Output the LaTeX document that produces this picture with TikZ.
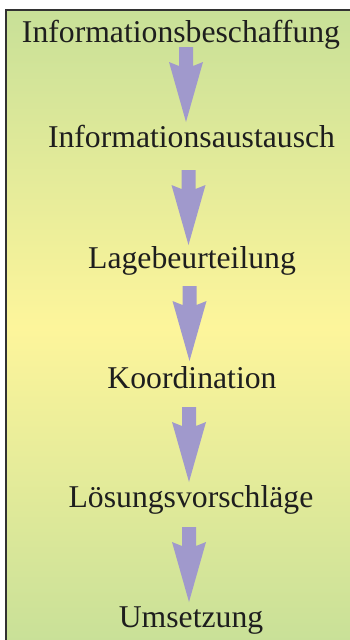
\documentclass[tikz,border=0pt]{standalone}
\usepackage{fontspec}
\setmainfont{Liberation Serif}
\definecolor{bggreen}{RGB}{200,224,152}
\definecolor{bgyellow}{RGB}{253,245,155}
\definecolor{arrowfill}{RGB}{160,153,204}
\definecolor{textcol}{RGB}{30,30,30}
\definecolor{framecol}{RGB}{50,50,50}
\tikzset{
  steptext/.style={anchor=base, inner sep=0pt, text=textcol, font=\fontsize{31.7}{36}\selectfont},
  blockarrow/.pic={
    \fill[arrowfill] (-7,0) -- (7,0) -- (7,19) -- (17,15) -- (0,75) -- (-17,15) -- (-7,19) -- cycle;
  }
}
\begin{document}
\begin{tikzpicture}[x=1pt,y=-1pt]
  \useasboundingbox (0,0) rectangle (350,640);
  \clip (0,0) rectangle (350,640);
  \shade[top color=bggreen, bottom color=bggreen, middle color=bgyellow] (6,10) rectangle (360,645);
  \draw[framecol, line width=1.4pt] (6,10) rectangle (360,650);

  \node[steptext] (s1) at (181,42) {Informationsbeschaffung};
  \node[steptext] (s2) at (191.5,147) {Informationsaustausch};
  \node[steptext] (s3) at (192,268) {Lagebeurteilung};
  \node[steptext] (s4) at (192,388) {Koordination};
  \node[steptext] (s5) at (191,507) {Lösungsvorschläge};
  \node[steptext] (s6) at (191,627) {Umsetzung};

  \pic at (186,47) {blockarrow};
  \pic at (188.5,170) {blockarrow};
  \pic at (189.5,286) {blockarrow};
  \pic at (189,407) {blockarrow};
  \pic at (189,527) {blockarrow};
\end{tikzpicture}
\end{document}
